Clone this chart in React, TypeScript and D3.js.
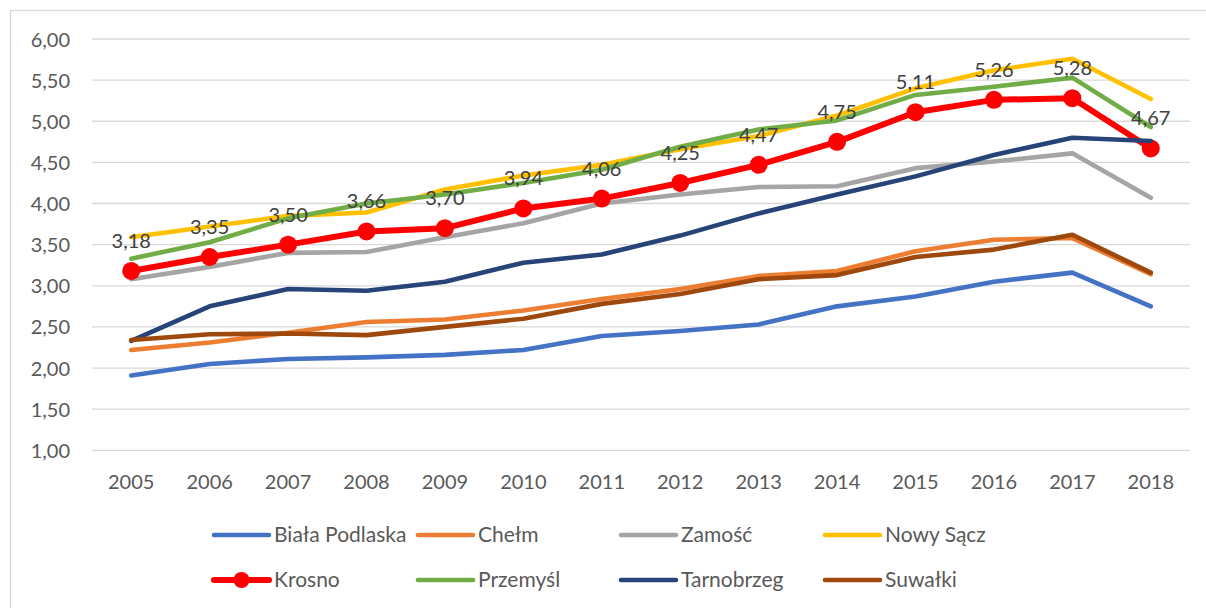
import React from "react";
import * as d3 from "d3";

const years = ["2005","2006","2007","2008","2009","2010","2011","2012","2013","2014","2015","2016","2017","2018"];
const yTicks = [1, 1.5, 2, 2.5, 3, 3.5, 4, 4.5, 5, 5.5, 6];

const bialaPodlaska = [1.91, 2.05, 2.11, 2.13, 2.16, 2.22, 2.39, 2.45, 2.53, 2.75, 2.87, 3.05, 3.16, 2.75];
const chelm = [2.22, 2.31, 2.43, 2.56, 2.59, 2.70, 2.84, 2.96, 3.12, 3.18, 3.42, 3.56, 3.58, 3.14];
const zamosc = [3.08, 3.23, 3.40, 3.41, 3.59, 3.76, 4.00, 4.11, 4.20, 4.21, 4.43, 4.51, 4.61, 4.07];
const nowySacz = [3.59, 3.72, 3.85, 3.89, 4.17, 4.34, 4.47, 4.66, 4.82, 5.07, 5.40, 5.62, 5.76, 5.27];
const krosno = [3.18, 3.35, 3.50, 3.66, 3.70, 3.94, 4.06, 4.25, 4.47, 4.75, 5.11, 5.26, 5.28, 4.67];
const przemysl = [3.33, 3.53, 3.82, 4.00, 4.11, 4.25, 4.41, 4.69, 4.90, 5.01, 5.32, 5.42, 5.53, 4.93];
const tarnobrzeg = [2.33, 2.75, 2.96, 2.94, 3.05, 3.28, 3.38, 3.61, 3.88, 4.11, 4.33, 4.59, 4.80, 4.76];
const suwalki = [2.34, 2.41, 2.42, 2.40, 2.50, 2.60, 2.78, 2.90, 3.08, 3.13, 3.35, 3.44, 3.62, 3.16];

const seriesNames = ["Biała Podlaska", "Chełm", "Zamość", "Nowy Sącz", "Krosno", "Przemyśl", "Tarnobrzeg", "Suwałki"];
const seriesValues = [bialaPodlaska, chelm, zamosc, nowySacz, krosno, przemysl, tarnobrzeg, suwalki];
const seriesColors = ["#4472C4", "#ED7D31", "#A5A5A5", "#FFC000", "#FF0000", "#70AD47", "#264478", "#9E480E"];
const highlighted = "Krosno";

const fmt = (v: number) => v.toFixed(2).replace(".", ",");
const FONT = "Lato, 'Noto Sans', sans-serif";

export default function App() {
  const W = 1206, H = 608;
  const x = d3.scaleBand<string>().domain(years).range([92, 1190]);
  const y = d3.scaleLinear().domain([1, 6]).range([450.3, 39]);
  const cx = (yr: string) => (x(yr) as number) + x.bandwidth() / 2;
  const line = d3.line<number>().x((_, i) => cx(years[i])).y((d) => y(d));

  const legendCols = [214, 418, 621, 825];
  const legendRows = [535, 580];

  return (
    <svg width={W} height={H} style={{ position: "absolute", left: 0, top: 0, background: "#fff" }}>
      <rect x={10.5} y={10.5} width={1220} height={620} fill="#fff" stroke="#D9D9D9" strokeWidth={1.3} />
      {yTicks.map((t) => (
        <g key={t}>
          <line x1={92} x2={1190} y1={y(t)} y2={y(t)} stroke="#D9D9D9" strokeWidth={1.3} />
          <text x={70} y={y(t) + 7.5} textAnchor="end" fontFamily={FONT} fontSize={20} fill="#595959">{fmt(t)}</text>
        </g>
      ))}
      {years.map((yr) => (
        <text key={yr} x={cx(yr)} y={489} textAnchor="middle" fontFamily={FONT} fontSize={20} fill="#595959">{yr}</text>
      ))}
      {seriesNames.map((name, si) => {
        const isH = name === highlighted;
        return (
          <g key={name}>
            <path d={line(seriesValues[si]) || ""} fill="none" stroke={seriesColors[si]} strokeWidth={isH ? 6 : 4.6} strokeLinejoin="round" strokeLinecap="round" />
            {isH && seriesValues[si].map((v, i) => (
              <circle key={i} cx={cx(years[i])} cy={y(v)} r={9} fill={seriesColors[si]} />
            ))}
          </g>
        );
      })}
      {krosno.map((v, i) => (
        <text key={i} x={cx(years[i])} y={y(v) - 23} textAnchor="middle" fontFamily={FONT} fontSize={20} fill="#404040">{fmt(v)}</text>
      ))}
      {seriesNames.map((name, si) => {
        const col = si % 4, row = Math.floor(si / 4);
        const lx = legendCols[col], ly = legendRows[row];
        const isH = name === highlighted;
        return (
          <g key={name}>
            <line x1={lx} x2={lx + 55} y1={ly} y2={ly} stroke={seriesColors[si]} strokeWidth={isH ? 6 : 4.6} strokeLinecap="round" />
            {isH && <circle cx={lx + 27.5} cy={ly} r={8} fill={seriesColors[si]} />}
            <text x={lx + 60} y={ly + 7} fontFamily={FONT} fontSize={21} fill="#595959">{name}</text>
          </g>
        );
      })}
    </svg>
  );
}
